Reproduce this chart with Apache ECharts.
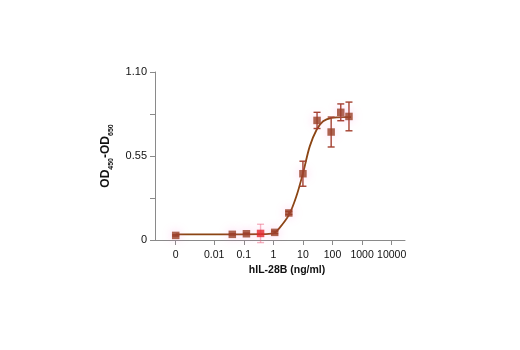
<!DOCTYPE html>
<html>
<head>
<meta charset="utf-8">
<script src="https://cdn.jsdelivr.net/npm/echarts@6/dist/echarts.min.js"></script>
<style>
  html, body { margin: 0; padding: 0; background: #fff; }
  #chart { width: 520px; height: 350px; }
</style>
</head>
<body>
<div id="chart"></div>
<script>
// hIL-28B dose response (OD450 - OD650)
const concentrations = [0, 0.041, 0.123, 0.37, 1.11, 3.33, 10, 30, 90, 190, 360];
const odMeans = [0.030, 0.037, 0.041, 0.043, 0.050, 0.177, 0.434, 0.783, 0.707, 0.836, 0.809];
const odErrors = [0.004, 0.004, 0.004, 0.06, 0.008, 0.01, 0.082, 0.053, 0.098, 0.055, 0.094];

// fitted curve, traced point by point
const curveConc = [0, 0.041, 0.37, 1.0, 1.6, 3.4, 6.0, 10.4, 17, 29, 48, 93, 230, 420];
const curveOD = [0.037, 0.037, 0.038, 0.043, 0.078, 0.166, 0.286, 0.449, 0.613, 0.722, 0.777, 0.799, 0.805, 0.805];

const xTickValues = [0, 0.01, 0.1, 1, 10, 100, 1000, 10000];
const xTickLabels = ['0', '0.01', '0.1', '1', '10', '100', '1000', '10000'];
const yTickLabels = ['0', '', '0.55', '', '1.10'];

// the zero dose sits on its own slot left of the log decades
const ZERO_POS = -3.3;
const pos = c => (c === 0 ? ZERO_POS : Math.log10(c));

const xTickPos = xTickValues.map(pos);
const pointData = concentrations.map((c, i) => [pos(c), odMeans[i]]);
const errData = concentrations.map((c, i) => [pos(c), odMeans[i] - odErrors[i], odMeans[i] + odErrors[i], i]);
const curveData = curveConc.map((c, i) => [pos(c), curveOD[i]]);

const highlightIndex = 3;
const POINT = '#983f26';
const ERR = '#a3402f';
const FONT = 'Arial, "Liberation Sans", sans-serif';

const chart = echarts.init(document.getElementById('chart'), null, { renderer: 'canvas' });

chart.setOption({
  backgroundColor: '#fff',
  animation: false,
  grid: { left: 155, right: 115, top: 72, bottom: 110, containLabel: false },
  xAxis: {
    type: 'value',
    min: -4,
    max: 4.45,
    name: 'hIL-28B (ng/ml)',
    nameLocation: 'middle',
    nameGap: 25,
    nameTextStyle: { fontFamily: FONT, fontWeight: 'bold', fontSize: 10.5, color: '#111', padding: [0, 0, 0, 14] },
    axisLine: { onZero: false, lineStyle: { color: '#8a8a8a', width: 1 } },
    axisTick: { show: true, customValues: xTickPos, length: 5, lineStyle: { color: '#8a8a8a' } },
    axisLabel: {
      customValues: xTickPos,
      fontFamily: FONT,
      fontSize: 10.5,
      color: '#111',
      margin: 10,
      formatter: v => {
        let best = 0;
        xTickPos.forEach((p, i) => { if (Math.abs(p - v) < Math.abs(xTickPos[best] - v)) best = i; });
        return xTickLabels[best];
      }
    },
    splitLine: { show: false }
  },
  yAxis: {
    type: 'value',
    min: 0,
    max: 1.1,
    interval: 0.275,
    name: 'OD{s|450}-OD{s|650}',
    nameLocation: 'middle',
    nameRotate: 90,
    nameGap: 40,
    nameTextStyle: {
      fontFamily: FONT, fontWeight: 'bold', fontSize: 12, color: '#111', lineHeight: 19,
      rich: {
        s: { fontFamily: FONT, fontWeight: 'bold', fontSize: 7, color: '#111', lineHeight: 19, verticalAlign: 'bottom' }
      }
    },
    axisLine: { show: true, onZero: false, lineStyle: { color: '#8a8a8a', width: 1 } },
    axisTick: { show: true, length: 5, lineStyle: { color: '#8a8a8a' } },
    axisLabel: {
      fontFamily: FONT,
      fontSize: 11,
      color: '#111',
      margin: 8,
      formatter: v => yTickLabels[Math.round(v / 0.275)] || ''
    },
    splitLine: { show: false }
  },
  series: [
    {
      type: 'line',
      data: curveData,
      smooth: 0.35,
      showSymbol: false,
      lineStyle: { color: '#8b4513', width: 1.8 },
      z: 2
    },
    {
      type: 'custom',
      data: errData,
      z: 3,
      renderItem: (params, api) => {
        const x = api.value(0);
        const lo = api.coord([x, api.value(1)]);
        const hi = api.coord([x, api.value(2)]);
        const idx = api.value(3);
        const half = 3.5;
        const color = idx === highlightIndex ? 'rgba(235,90,120,0.45)' : ERR;
        const style = { stroke: color, lineWidth: 1.4 };
        return {
          type: 'group',
          children: [
            { type: 'line', shape: { x1: lo[0], y1: lo[1], x2: hi[0], y2: hi[1] }, style },
            { type: 'line', shape: { x1: hi[0] - half, y1: hi[1], x2: hi[0] + half, y2: hi[1] }, style },
            { type: 'line', shape: { x1: lo[0] - half, y1: lo[1], x2: lo[0] + half, y2: lo[1] }, style }
          ]
        };
      }
    },
    {
      type: 'scatter',
      data: pointData,
      symbol: 'rect',
      symbolSize: 7.5,
      z: 4,
      itemStyle: {
        color: p => (p.dataIndex === highlightIndex ? '#e3262c' : POINT),
        shadowColor: 'rgba(255,120,210,0.45)',
        shadowBlur: 10
      }
    }
  ]
});
</script>
</body>
</html>
